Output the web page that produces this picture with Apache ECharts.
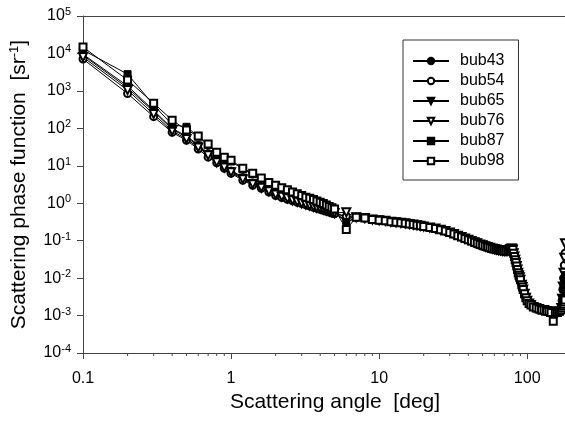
<!DOCTYPE html>
<html><head><meta charset="utf-8">
<script src="https://cdn.jsdelivr.net/npm/echarts@6/dist/echarts.min.js"></script>
<style>html,body{margin:0;padding:0;background:#fff}#c{width:565px;height:423px}</style>
</head><body><div id="c"></div>
<script>
// Scattering angles (deg)
const headAngles = [0.1,0.2,0.3,0.4,0.5,0.6,0.7,0.8,0.9,1.0,
  1.2,1.4,1.6,1.8,2.0,2.2,2.4,2.6,2.8,3.0,3.2,3.4,3.6,3.8,4.0,4.2,4.4,4.6,4.8,5.0,6];
const tailAngles = [7,8,9,10,11,12,13,14,15,16,17,18,19,20,22,24,26,28,30,32,34,36,38,40,42,44,46,48,50,
  52,54,56,58,60,62,64,66,68,70,72,74,76,77,78,79,80,81,82,83,84,85,86,87,88,89,90,92,93,94,96,98,100,
  103,106,110,115,120,125,130,135,140,145];
const endAngles = [150,155,160,165,170,172,174,176,178,180];

// Phase function values (sr^-1)
const bub43Head = [9500,1350,300,100,62,36,22,14,10,7.5,5.0,3.6,2.9,2.3,1.9,1.65,1.45,1.3,1.18,1.08,1.0,0.93,0.87,0.82,0.78,0.73,0.69,0.65,0.62,0.6,0.4];
const bub54Head = [7100,850,205,78,48,28,17,12,8.6,6.3,4.1,3.0,2.5,2.0,1.6,1.42,1.28,1.16,1.06,0.98,0.9,0.84,0.78,0.73,0.69,0.65,0.61,0.58,0.55,0.52,0.45];
const bub65Head = [9000,1200,280,95,58,34,20,13,9.5,7.0,4.7,3.4,2.7,2.2,1.8,1.6,1.4,1.25,1.13,1.04,0.96,0.9,0.84,0.79,0.75,0.71,0.67,0.63,0.6,0.57,0.31];
const bub76Head = [8000,1050,240,85,52,31,19,12.5,9.0,6.7,4.4,3.2,2.6,2.1,1.7,1.5,1.35,1.2,1.1,1.0,0.93,0.87,0.81,0.76,0.72,0.68,0.64,0.61,0.58,0.55,0.57];
const bub87Head = [12300,2800,420,125,110,60,36,22,16,13,8.2,6.0,4.5,3.5,2.9,2.5,2.2,1.95,1.75,1.55,1.4,1.3,1.2,1.1,1.02,0.95,0.87,0.8,0.74,0.68,0.3];
const bub98Head = [14800,1950,470,165,90,62,38,23,17,14,8.6,6.3,4.7,3.6,3.0,2.6,2.3,2.0,1.8,1.6,1.45,1.35,1.25,1.15,1.06,0.98,0.9,0.82,0.76,0.7,0.2];

const commonTail = [0.42,0.40,0.37,0.35,0.34,0.32,0.31,0.30,0.29,0.28,0.27,0.26,0.25,0.24,0.225,0.21,0.195,0.18,0.165,0.15,0.135,0.125,0.115,0.105,0.098,0.091,0.085,0.079,0.075,
  0.071,0.068,0.065,0.062,0.060,0.058,0.056,0.055,0.054,0.053,0.053,0.054,0.057,0.059,0.061,0.062,0.058,0.046,0.038,0.031,0.026,0.021,0.017,0.014,0.012,0.0105,0.009,0.0066,0.0058,0.005,0.0038,0.003,0.0025,
  0.0021,0.0019,0.0017,0.0016,0.0015,0.0014,0.0014,0.0013,0.0013,0.0012];

const bub43End = [0.0012,0.0012,0.0012,0.0012,0.0013,0.0014,0.0015,0.0016,0.0017,0.0018];
const bub54End = [0.0012,0.0012,0.0012,0.0013,0.0015,0.0025,0.005,0.01,0.022,0.046];
const bub65End = [0.0012,0.0012,0.0012,0.0012,0.0013,0.0013,0.0014,0.0015,0.0015,0.0016];
const bub76End = [0.0012,0.0012,0.0012,0.0013,0.0016,0.0028,0.006,0.014,0.035,0.085];
const bub87End = [0.0012,0.0012,0.0012,0.0013,0.0015,0.002,0.003,0.005,0.008,0.012];
const bub98End = [0.0007,0.0012,0.0012,0.0013,0.0014,0.0016,0.0018,0.002,0.0023,0.0026];

const seriesNames = ['bub43','bub54','bub65','bub76','bub87','bub98'];
const minorXTicks = [0.2,0.3,0.4,0.5,0.6,0.7,0.8,0.9,2,3,4,5,6,7,8,9,20,30,40,50,60,70,80,90];

const FONT = 'Liberation Sans, Arial, Helvetica, sans-serif';
const angles = headAngles.concat(tailAngles, endAngles);
function build(head, end) {
  const vals = head.concat(commonTail, end);
  return angles.map((a, i) => [a, vals[i]]);
}
const seriesDefs = [
  {name:'bub43', head:bub43Head, end:bub43End, symbol:'circle', size:7, rot:0},
  {name:'bub54', head:bub54Head, end:bub54End, symbol:'emptyCircle', size:7, rot:0},
  {name:'bub65', head:bub65Head, end:bub65End, symbol:'triangle', size:8, rot:180},
  {name:'bub76', head:bub76Head, end:bub76End, symbol:'emptyTriangle', size:8, rot:180},
  {name:'bub87', head:bub87Head, end:bub87End, symbol:'rect', size:7, rot:0},
  {name:'bub98', head:bub98Head, end:bub98End, symbol:'emptyRect', size:7, rot:0}
];

const series = seriesDefs.map(d => ({
  name: d.name, type: 'line', data: build(d.head, d.end),
  symbol: d.symbol, symbolSize: d.size, symbolRotate: d.rot,
  showAllSymbol: true, clip: true,
  lineStyle: {color:'#000', width:1},
  itemStyle: {color:'#000', borderColor:'#000', borderWidth:1}
}));
series.push({
  type: 'custom', silent: true, xAxisIndex: 0, yAxisIndex: 0,
  data: minorXTicks.map(v => [v, 1e-4]),
  encode: {x:0, y:1},
  renderItem: (params, api) => {
    const p = api.coord([api.value(0), 1e-4]);
    return {type:'line', shape:{x1:p[0], y1:p[1], x2:p[0], y2:p[1]+3}, style:{stroke:'#444', lineWidth:1}};
  }
});

const chart = echarts.init(document.getElementById('c'), null, {renderer:'canvas'});
chart.setOption({
  animation: false,
  backgroundColor: '#fff',
  textStyle: {fontFamily: FONT},
  grid: {left:83, right:0, top:16, bottom:70, containLabel:false},
  legend: {
    data: seriesNames, orient:'vertical', left:403, top:40,
    itemWidth:36, itemHeight:8, itemGap:4,
    padding:[13,14,11,9], borderColor:'#333', borderWidth:1, backgroundColor:'#fff',
    textStyle:{fontSize:16, color:'#000', fontFamily:FONT, padding:[0,0,0,6]}
  },
  xAxis: [{
    type:'log', logBase:10, min:0.1, max:180, interval:1,
    name:'Scattering angle  [deg]', nameLocation:'middle', nameGap:33,
    nameTextStyle:{fontSize:21, color:'#000', fontFamily:FONT, padding:[0,0,0,22]},
    axisLine:{lineStyle:{color:'#444', width:1}},
    axisTick:{show:true, inside:false, length:6, lineStyle:{color:'#444'}},
    axisLabel:{fontSize:16, color:'#000', margin:18, showMaxLabel:false,
      formatter: v => { const e = Math.log10(v); if (Math.abs(e-Math.round(e))>1e-6) return ''; return String(+v.toPrecision(3)); }},
    splitLine:{show:false}
  },{
    type:'log', logBase:10, min:0.1, max:180, position:'top',
    axisLine:{show:true, lineStyle:{color:'#444', width:1}},
    axisTick:{show:false}, axisLabel:{show:false}, splitLine:{show:false}
  }],
  yAxis: {
    type:'log', logBase:10, min:1e-4, max:1e5, interval:1,
    name:'{t|Scattering phase function  [sr}{s|-1}{t|]}', nameLocation:'middle', nameGap:52,
    nameTextStyle:{rich:{
      t:{fontSize:21, color:'#000', fontFamily:FONT},
      s:{fontSize:13, color:'#000', fontFamily:FONT, padding:[0,0,10,0]}
    }},
    axisLine:{show:true, lineStyle:{color:'#444', width:1}},
    axisTick:{show:true, inside:false, length:6, lineStyle:{color:'#444'}},
    axisLabel:{margin:12,
      formatter: v => '{b|10}{s|' + Math.round(Math.log10(v)) + '}',
      rich:{
        b:{fontSize:16, color:'#000', fontFamily:FONT},
        s:{fontSize:11, color:'#000', fontFamily:FONT, padding:[0,0,8,0]}
      }},
    splitLine:{show:false}
  },
  series: series
});
</script>
</body></html>
